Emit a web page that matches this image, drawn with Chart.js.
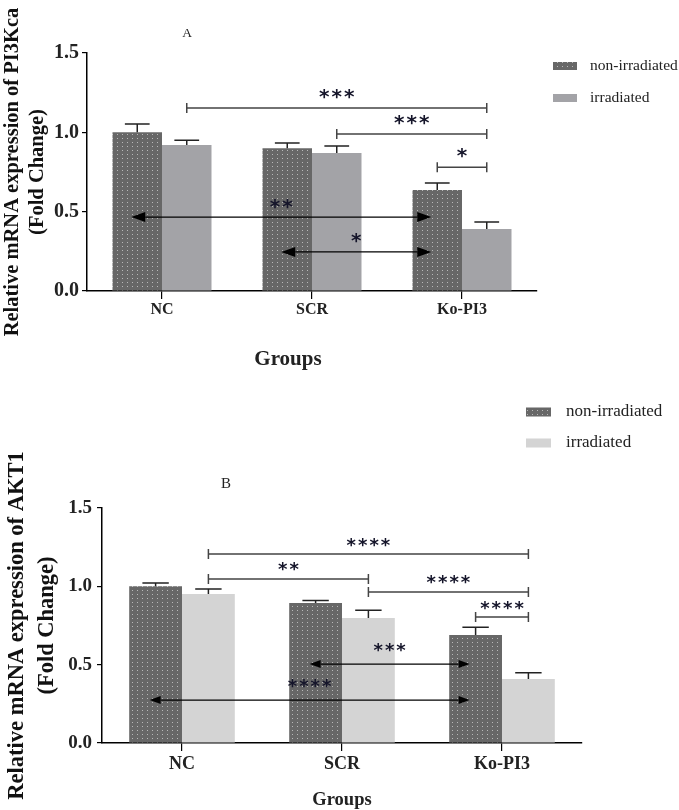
<!DOCTYPE html>
<html><head><meta charset="utf-8">
<script src="https://cdn.jsdelivr.net/npm/chart.js@4.4.0/dist/chart.umd.min.js"></script>
<style>
html,body{margin:0;padding:0;background:#fff;}
#wrap{position:relative;width:679px;height:810px;overflow:hidden;background:#fff;}
canvas{position:absolute;left:0;}
#cA{top:0}
#cB{top:380px}
</style></head><body>
<div id="wrap"><canvas id="cA" width="679" height="380"></canvas><canvas id="cB" width="679" height="430"></canvas></div>
<script>
// ---------- data ----------
const groups = ['NC', 'SCR', 'Ko-PI3'];
const seriesNames = ['non-irradiated', 'irradiated'];
const yTickValues = [0, 0.5, 1.0, 1.5];

const pi3kNon = [1.00, 0.90, 0.637];
const pi3kIrr = [0.92, 0.87, 0.39];
const pi3kNonErr = [0.052, 0.033, 0.043];
const pi3kIrrErr = [0.03, 0.044, 0.045];

const akt1Non = [1.00, 0.894, 0.689];
const akt1Irr = [0.951, 0.798, 0.408];
const akt1NonErr = [0.022, 0.015, 0.05];
const akt1IrrErr = [0.032, 0.05, 0.04];

// significance: [fromGroup, fromSeries, toGroup, toSeries, yValue, label]
const pi3kBrackets = [[0,1,2,1,1.153,'***'],[1,1,2,1,0.99,'***'],[2,0,2,1,0.78,'*']];
const pi3kArrows = [[0,0,2,0,0.466,'**'],[1,0,2,0,0.246,'*']];
const akt1Brackets = [[0,1,2,1,1.206,'****'],[0,1,1,1,1.047,'**'],[1,1,2,1,0.964,'****'],[2,0,2,1,0.804,'****']];
const akt1Arrows = [[1,0,2,0,0.504,'***'],[0,0,2,0,0.274,'****']];

// ---------- helpers ----------
const SERIF = '"Liberation Serif", "Times New Roman", serif';
Chart.defaults.font.family = SERIF;
Chart.defaults.color = '#222';

function dotPattern(bg, dot) {
  const c = document.createElement('canvas');
  c.width = 5; c.height = 4;
  const x = c.getContext('2d');
  x.fillStyle = bg; x.fillRect(0, 0, 5, 4);
  x.fillStyle = dot; x.fillRect(2, 2, 1, 1);
  return x.createPattern(c, 'repeat');
}

function starText(ctx, s, x, y, font, spacing) {
  ctx.save();
  ctx.font = font;
  ctx.fillStyle = '#15152a';
  ctx.textAlign = 'center';
  ctx.textBaseline = 'alphabetic';
  if ('letterSpacing' in ctx) ctx.letterSpacing = spacing + 'px';
  const m = ctx.measureText(s);
  ctx.fillText(s, x + spacing / 2, y + (m.actualBoundingBoxAscent - m.actualBoundingBoxDescent) / 2);
  ctx.restore();
}

const annotPlugin = {
  id: 'annot',
  afterDatasetsDraw(chart, args, o) {
    const ctx = chart.ctx, ys = chart.scales.y;
    const bar = (g, s) => chart.getDatasetMeta(s).data[g];
    ctx.save();
    // error bars (upper only)
    o.errors.forEach((errs, s) => {
      chart.getDatasetMeta(s).data.forEach((b, g) => {
        const v = chart.data.datasets[s].data[g];
        const top = ys.getPixelForValue(v), e = ys.getPixelForValue(v + errs[g]);
        const hw = b.width / 4;
        ctx.strokeStyle = '#222'; ctx.lineWidth = 1.5;
        ctx.beginPath();
        ctx.moveTo(b.x, top); ctx.lineTo(b.x, e);
        ctx.moveTo(b.x - hw, e); ctx.lineTo(b.x + hw, e);
        ctx.stroke();
      });
    });
    // brackets
    o.brackets.forEach(([g1, s1, g2, s2, v, lab]) => {
      const x1 = bar(g1, s1).x, x2 = bar(g2, s2).x, y = ys.getPixelForValue(v);
      ctx.strokeStyle = '#444'; ctx.lineWidth = 1.5;
      ctx.beginPath();
      ctx.moveTo(x1, y); ctx.lineTo(x2, y);
      ctx.moveTo(x1, y - o.cap); ctx.lineTo(x1, y + o.cap);
      ctx.moveTo(x2, y - o.cap); ctx.lineTo(x2, y + o.cap);
      ctx.stroke();
      starText(ctx, lab, (x1 + x2) / 2, y - o.bracketLabelGap, o.starFont, o.starSpacing);
    });
    // double arrows
    o.arrows.forEach(([g1, s1, g2, s2, v, lab]) => {
      const x1 = bar(g1, s1).x + o.tipShift, x2 = bar(g2, s2).x + o.tipShift, y = ys.getPixelForValue(v);
      ctx.strokeStyle = '#000'; ctx.lineWidth = 1.2; ctx.fillStyle = '#000';
      ctx.beginPath(); ctx.moveTo(x1 + o.head, y); ctx.lineTo(x2 - o.head, y); ctx.stroke();
      ctx.beginPath(); ctx.moveTo(x1, y); ctx.lineTo(x1 + o.head, y - o.headH); ctx.lineTo(x1 + o.head, y + o.headH); ctx.closePath(); ctx.fill();
      ctx.beginPath(); ctx.moveTo(x2, y); ctx.lineTo(x2 - o.head, y - o.headH); ctx.lineTo(x2 - o.head, y + o.headH); ctx.closePath(); ctx.fill();
      starText(ctx, lab, (x1 + x2) / 2, y - o.arrowLabelGap, o.starFont, o.starSpacing);
    });
    ctx.restore();
  },
  afterDraw(chart, args, o) {
    const ctx = chart.ctx, ca = chart.chartArea;
    ctx.save();
    // panel letter
    ctx.fillStyle = '#222';
    ctx.textAlign = 'center'; ctx.textBaseline = 'middle';
    ctx.font = o.letterFont;
    ctx.fillText(o.letter, ca.left + o.letterDX, ca.top + o.letterDY);
    // x-axis title
    ctx.font = o.groupsFont;
    ctx.fillText('Groups', (ca.left + ca.right) / 2 + o.groupsDX, ca.bottom + o.groupsDY);
    // legend
    ctx.textAlign = 'left';
    ctx.font = o.legendFont;
    chart.data.datasets.forEach((ds, i) => {
      const y = o.legendY + i * o.legendGap;
      ctx.fillStyle = ds.backgroundColor;
      ctx.fillRect(o.legendX, y - o.boxH / 2, o.boxW, o.boxH);
      ctx.fillStyle = '#222';
      ctx.fillText(ds.label, o.legendX + o.textDX, y);
    });
    ctx.restore();
  }
};

function makeChart(id, cfg) {
  const ctx = document.getElementById(id).getContext('2d');
  return new Chart(ctx, {
    type: 'bar',
    data: {
      labels: groups,
      datasets: [
        { label: seriesNames[0], data: cfg.non, backgroundColor: dotPattern('#676767', '#b8b8b8'), borderWidth: 0 },
        { label: seriesNames[1], data: cfg.irr, backgroundColor: cfg.irrColor, borderWidth: 0 }
      ]
    },
    options: {
      responsive: false,
      animation: false,
      devicePixelRatio: 1,
      layout: { padding: cfg.padding },
      datasets: { bar: { categoryPercentage: 0.66, barPercentage: 1.0 } },
      plugins: {
        legend: { display: false },
        tooltip: { enabled: false },
        annot: cfg.annot
      },
      scales: {
        x: {
          offset: true,
          grid: { offset: false, drawOnChartArea: false, drawTicks: true, tickLength: 8, color: '#000', lineWidth: 1.2 },
          border: { display: true, color: '#000', width: 1.5 },
          ticks: { font: { size: cfg.xTickSize, weight: 'bold' }, color: '#222', padding: cfg.xTickPad },
          afterFit: s => { s.height = cfg.xHeight; }
        },
        y: {
          min: 0, max: 1.5,
          afterBuildTicks: s => { s.ticks = yTickValues.map(v => ({ value: v })); },
          grid: { drawOnChartArea: false, drawTicks: true, tickLength: 5, color: '#000', lineWidth: 1.2 },
          border: { display: true, color: '#000', width: 1.5 },
          ticks: { font: { size: cfg.yTickSize, weight: 'bold' }, color: '#222', padding: cfg.yTickPad, callback: v => Number(v).toFixed(1) },
          title: { display: true, text: cfg.yTitle, color: '#111', font: { size: cfg.yTitleSize, weight: 'bold', lineHeight: cfg.yTitleLH }, padding: { top: cfg.yTitlePad, bottom: 0 } },
          afterFit: s => { s.width = cfg.yWidth; }
        }
      }
    },
    plugins: [annotPlugin]
  });
}

makeChart('cA', {
  non: pi3kNon, irr: pi3kIrr, irrColor: '#a3a3a7',
  padding: { top: 53, right: 142, left: 0, bottom: 29 },
  xHeight: 60, xTickSize: 16, xTickPad: 1,
  yWidth: 87, yTickSize: 20, yTickPad: 3,
  yTitle: ['Relative mRNA expression of PI3Kca', '(Fold Change)'], yTitleSize: 20.5, yTitleLH: 1.22, yTitlePad: 0,
  annot: {
    errors: [pi3kNonErr, pi3kIrrErr], brackets: pi3kBrackets, arrows: pi3kArrows,
    cap: 5, bracketLabelGap: 14, arrowLabelGap: 13.5, starFont: 'bold 20px "DejaVu Sans"', starSpacing: 2,
    tipShift: -6, head: 14, headH: 5,
    letter: 'A', letterFont: '13.5px ' + SERIF, letterDX: 100, letterDY: -20,
    groupsFont: 'bold 21px ' + SERIF, groupsDX: -24, groupsDY: 69,
    legendFont: '15.5px ' + SERIF, legendX: 553, legendY: 66, legendGap: 32, boxW: 24, boxH: 8, textDX: 37
  }
});

makeChart('cB', {
  non: akt1Non, irr: akt1Irr, irrColor: '#d4d4d4',
  padding: { top: 128, right: 97, left: 0, bottom: 17 },
  xHeight: 50, xTickSize: 18, xTickPad: 3,
  yWidth: 102, yTickSize: 19, yTickPad: 5,
  yTitle: ['Relative mRNA expression of AKT1', '(Fold Change)'], yTitleSize: 22.5, yTitleLH: 1.33, yTitlePad: 2,
  annot: {
    errors: [akt1NonErr, akt1IrrErr], brackets: akt1Brackets, arrows: akt1Arrows,
    cap: 5, bracketLabelGap: 12, arrowLabelGap: 16.5, starFont: 'bold 18px "DejaVu Sans"', starSpacing: 2,
    tipShift: -6, head: 11, headH: 4,
    letter: 'B', letterFont: '15px ' + SERIF, letterDX: 124, letterDY: -24,
    groupsFont: 'bold 18.5px ' + SERIF, groupsDX: 0, groupsDY: 57,
    legendFont: '17px ' + SERIF, legendX: 526, legendY: 32, legendGap: 31, boxW: 25, boxH: 9, textDX: 40
  }
});
</script>
</body></html>
